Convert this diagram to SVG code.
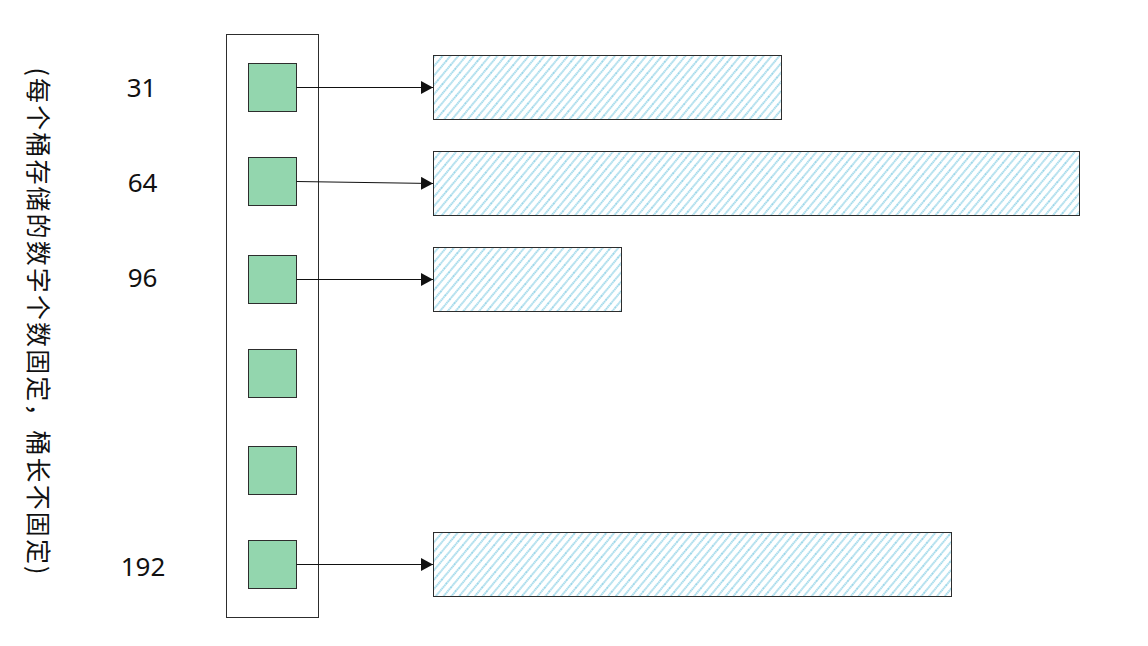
<svg xmlns="http://www.w3.org/2000/svg" width="1148" height="646" viewBox="0 0 1148 646">
<defs>
<pattern id="hatch" patternUnits="userSpaceOnUse" width="6" height="20" patternTransform="rotate(40)">
<rect x="0" y="0" width="6" height="20" fill="#ffffff"/>
<line x1="3" y1="0" x2="3" y2="20" stroke="#2aa8cf" stroke-width="0.9" stroke-dasharray="1.4 0.5"/>
</pattern>
<marker id="arr" viewBox="0 0 12 13" refX="12" refY="6.5" markerWidth="12" markerHeight="13" markerUnits="userSpaceOnUse" orient="auto">
<path d="M0,0 L12,6.5 L0,13 Z" fill="#111"/>
</marker>
<style>
.sq{fill:#93d6ae;stroke:#2d2d2d;stroke-width:1}
.bar{stroke:#2d2d2d;stroke-width:1}
.lbl{font-family:"Noto Sans","Noto Sans CJK SC",sans-serif;font-size:26px;fill:#111;text-anchor:middle}
.con{stroke:#111;stroke-width:1;fill:none;marker-end:url(#arr)}
</style>
</defs>
<rect width="1148" height="646" fill="#ffffff"/>
<g id="caption">
<text transform="translate(40,321) rotate(90)" font-family="Noto Sans CJK SC, sans-serif" font-size="25" fill="#111" text-anchor="middle" dominant-baseline="central" textLength="507" lengthAdjust="spacing">(每个桶存储的数字个数固定，桶长不固定)</text>
</g>
<g id="labels">
<text class="lbl" x="141.5" y="97">31</text>
<text class="lbl" x="142.5" y="192">64</text>
<text class="lbl" x="142.5" y="287">96</text>
<text class="lbl" x="143" y="576">192</text>
</g>
<g id="container">
<rect x="226.5" y="34.5" width="92" height="583" fill="none" stroke="#2d2d2d" stroke-width="1"/>
</g>
<g id="bucket1"><rect class="sq" x="248.5" y="63.5" width="48" height="48"/></g>
<g id="bucket2"><rect class="sq" x="248.5" y="157.5" width="48" height="48"/></g>
<g id="bucket3"><rect class="sq" x="248.5" y="255.5" width="48" height="48"/></g>
<g id="bucket4"><rect class="sq" x="248.5" y="349.5" width="48" height="48"/></g>
<g id="bucket5"><rect class="sq" x="248.5" y="446.5" width="48" height="48"/></g>
<g id="bucket6"><rect class="sq" x="248.5" y="540.5" width="48" height="48"/></g>
<g id="bar1"><rect class="bar" fill="url(#hatch)" x="433.5" y="55.5" width="348" height="64"/></g>
<g id="bar2"><rect class="bar" fill="url(#hatch)" x="433.5" y="151.5" width="646" height="64"/></g>
<g id="bar3"><rect class="bar" fill="url(#hatch)" x="433.5" y="247.5" width="188" height="64"/></g>
<g id="bar4"><rect class="bar" fill="url(#hatch)" x="433.5" y="532.5" width="518" height="64"/></g>
<g id="connectors">
<line class="con" x1="296.5" y1="87.5" x2="433" y2="87.5"/>
<line class="con" x1="296.5" y1="181.5" x2="433" y2="183.5"/>
<line class="con" x1="296.5" y1="279.5" x2="433" y2="279.5"/>
<line class="con" x1="296.5" y1="564.5" x2="433" y2="564.5"/>
</g>
</svg>
